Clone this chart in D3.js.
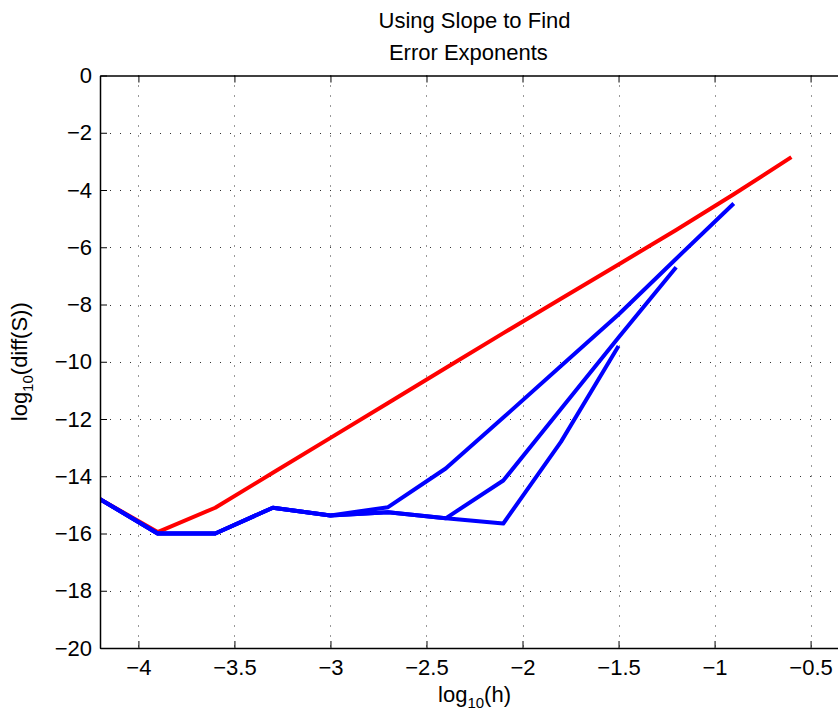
<!DOCTYPE html>
<html>
<head>
<meta charset="utf-8">
<script src="https://cdn.jsdelivr.net/npm/d3@7"></script>
<style>
  body { margin: 0; background: #fff; }
  text { font-family: "Liberation Sans", Arial, Helvetica, sans-serif; fill: #000; }
</style>
</head>
<body>
<div class="canvas"></div>
<script>
// chart data
const logH = [-4.2, -3.9, -3.6, -3.3, -3.0, -2.7, -2.4, -2.1, -1.8, -1.5, -1.2, -0.9, -0.6];
const redDiff = [-14.8, -15.95, -15.1, -13.88, -12.66, -11.44, -10.22, -9.0, -7.8, -6.6, -5.4, -4.15, -2.85];
const blueDiffA = [-14.8, -16.0, -16.0, -15.1, -15.37, -15.08, -13.73, -11.95, -10.15, -8.35, -6.4, -4.47];
const blueDiffB = [-14.8, -16.0, -16.0, -15.1, -15.37, -15.26, -15.47, -14.15, -11.65, -9.15, -6.7];
const blueDiffC = [-14.8, -16.0, -16.0, -15.1, -15.37, -15.26, -15.47, -15.65, -12.8, -9.45];
const xTicks = [-4, -3.5, -3, -2.5, -2, -1.5, -1, -0.5];
const yTicks = [0, -2, -4, -6, -8, -10, -12, -14, -16, -18, -20];

// dimensions
const w = 838;
const h = 717;
const plot = { left: 100, right: 849, top: 75.5, bottom: 648 };
const fontSize = 22;
const tickLen = 7;

const svg = d3.select(".canvas").append("svg").attr("width", w).attr("height", h);

const x = d3.scaleLinear().domain([-4.2, -0.3]).range([plot.left, plot.right]);
const y = d3.scaleLinear().domain([-20, 0]).range([plot.bottom, plot.top]);

const fmt = (d) => (d < 0 ? "\u2212" + Math.abs(d) : String(d));

// dotted grid
const grid = svg.append("g").attr("stroke", "#333").attr("stroke-width", 1).attr("stroke-dasharray", "1,9");
grid.selectAll("line.gx")
  .data(xTicks)
  .enter()
  .append("line")
  .attr("x1", (d) => Math.round(x(d)) + 0.5)
  .attr("x2", (d) => Math.round(x(d)) + 0.5)
  .attr("y1", plot.top)
  .attr("y2", plot.bottom);
grid.selectAll("line.gy")
  .data(yTicks.filter((d) => d !== 0 && d !== -20))
  .enter()
  .append("line")
  .attr("x1", plot.left)
  .attr("x2", plot.right)
  .attr("y1", (d) => Math.round(y(d)) + 0.5)
  .attr("y2", (d) => Math.round(y(d)) + 0.5);

// lines: red first, blue on top
const line = d3.line().x((d) => x(d[0])).y((d) => y(d[1]));
const series = [
  { vals: redDiff, color: "#ff0000" },
  { vals: blueDiffC, color: "#0000ff" },
  { vals: blueDiffB, color: "#0000ff" },
  { vals: blueDiffA, color: "#0000ff" },
];
svg.append("clipPath").attr("id", "clip")
  .append("rect")
  .attr("x", plot.left).attr("y", plot.top)
  .attr("width", plot.right - plot.left).attr("height", plot.bottom - plot.top);
svg.append("g")
  .attr("clip-path", "url(#clip)")
  .selectAll("path")
  .data(series)
  .enter()
  .append("path")
  .attr("d", (s) => line(s.vals.map((v, i) => [logH[i], v])))
  .attr("fill", "none")
  .attr("stroke", (s) => s.color)
  .attr("stroke-width", 4)
  .attr("stroke-linejoin", "round");

// axes with inward ticks on all sides
const axisBottom = d3.axisBottom(x).tickValues(xTicks).tickSizeInner(-tickLen).tickSizeOuter(0).tickPadding(11).tickFormat(fmt);
const axisTop = d3.axisTop(x).tickValues(xTicks).tickSizeInner(-tickLen).tickSizeOuter(0).tickFormat("");
const axisLeft = d3.axisLeft(y).tickValues(yTicks).tickSizeInner(-tickLen).tickSizeOuter(0).tickPadding(8).tickFormat(fmt);
const axisRight = d3.axisRight(y).tickValues(yTicks).tickSizeInner(-tickLen).tickSizeOuter(0).tickFormat("");

const styleAxis = (g) => {
  g.attr("font-family", null).attr("font-size", null);
  g.select(".domain").attr("stroke", "#000").attr("stroke-width", 1.5);
  g.selectAll(".tick line").attr("stroke", "#000").attr("stroke-width", 1);
  g.selectAll(".tick text").style("font-size", fontSize + "px").attr("fill", "#000");
};
svg.append("g").attr("transform", `translate(0, ${plot.bottom})`).call(axisBottom).call(styleAxis);
svg.append("g").attr("transform", `translate(0, ${plot.top})`).call(axisTop).call(styleAxis);
svg.append("g").attr("transform", `translate(${plot.left}, 0)`).call(axisLeft).call(styleAxis);
svg.append("g").attr("transform", `translate(${plot.right}, 0)`).call(axisRight).call(styleAxis);

// title, second line padded with spaces like a char matrix
const cx = (plot.left + plot.right) / 2;
svg.append("text")
  .attr("x", cx).attr("y", 28)
  .attr("text-anchor", "middle")
  .style("font-size", fontSize + "px")
  .text("Using Slope to Find");
svg.append("text")
  .attr("x", cx).attr("y", 60)
  .attr("text-anchor", "middle")
  .style("font-size", fontSize + "px")
  .style("white-space", "pre")
  .text("\u00a0Error Exponents\u00a0\u00a0\u00a0");

// x label
const xl = svg.append("text")
  .attr("x", cx).attr("y", 702)
  .attr("text-anchor", "middle")
  .style("font-size", fontSize + "px");
xl.append("tspan").text("log");
xl.append("tspan").attr("dy", 6).style("font-size", "15px").text("10");
xl.append("tspan").attr("dy", -6).text("(h)");

// y label
const yl = svg.append("text")
  .attr("transform", `translate(27, ${(plot.top + plot.bottom) / 2}) rotate(-90)`)
  .attr("text-anchor", "middle")
  .style("font-size", fontSize + "px");
yl.append("tspan").text("log");
yl.append("tspan").attr("dy", 6).style("font-size", "15px").text("10");
yl.append("tspan").attr("dy", -6).text("(diff(S))");
</script>
</body>
</html>
